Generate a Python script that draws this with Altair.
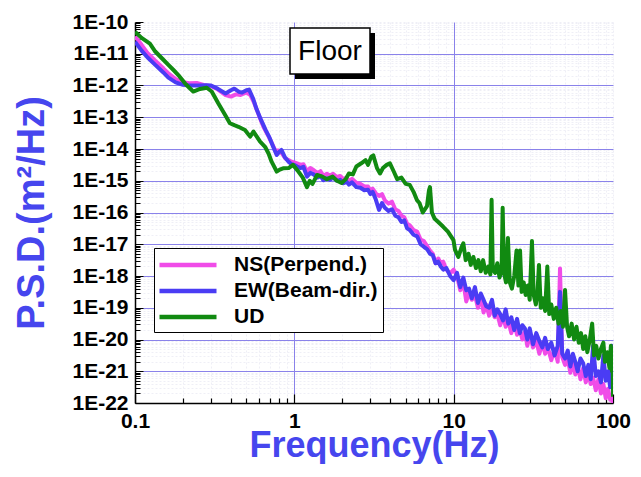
import altair as alt
import pandas as pd

# ---------------- data ----------------
# frequency (Hz) and log10 of PSD (m^2/Hz)
ns_freq = [0.1, 0.11, 0.12, 0.134, 0.15, 0.162, 0.18, 0.2, 0.22, 0.244, 0.27, 0.3, 0.33, 0.37, 0.4,
           0.43, 0.46, 0.5, 0.53, 0.56, 0.6, 0.64, 0.68, 0.72, 0.76, 0.8, 0.84, 0.88, 0.92, 0.96, 1.0,
           1.04, 1.09, 1.14, 1.2, 1.26, 1.32, 1.4, 1.46, 1.52, 1.6, 1.67, 1.75, 1.85, 1.94, 2.03,
           2.12, 2.2, 2.3, 2.45, 2.6, 2.75, 2.9, 3.0, 3.1, 3.25, 3.4, 3.55, 3.7, 3.9, 4.1,
           4.3, 4.5, 4.7, 4.9, 5.1, 5.3, 5.6, 5.9, 6.2, 6.5, 6.8, 7.1, 7.4, 7.7, 8.0,
           8.3, 8.6, 9.0, 9.5, 10.0,
           10.5, 11, 11.5, 12, 12.5, 13, 13.6, 14.2, 14.8, 15.4, 16, 16.7, 17.4, 18.1, 18.8,
           19.6, 20.4, 21.2, 22, 23, 24, 25, 26, 27, 28, 29, 30, 31.5, 33, 34.5,
           36, 37.5, 39, 41, 43, 45, 46.5, 48, 50, 52, 54, 56, 58, 60, 62.5,
           65, 67.5, 70, 72.5, 75, 78, 81, 84, 87, 90, 93, 96, 98, 100]
ns_log_psd = [-10.46, -10.72, -10.98, -11.22, -11.45, -11.62, -11.8, -11.9, -11.93, -11.92, -11.98, -12.02, -12.12, -12.3, -12.35,
              -12.28, -12.3, -12.22, -12.3, -12.55, -12.95, -13.3, -13.55, -13.8, -14.05, -14.05, -14.15, -14.3, -14.35, -14.4, -14.42,
              -14.45, -14.5, -14.48, -14.7, -14.6, -14.66, -14.76, -14.7, -14.84, -14.78, -14.84, -14.78, -14.88, -14.85, -14.95,
              -14.9, -15.0, -14.94, -15.06, -15.1, -15.18, -15.18, -15.3, -15.25, -15.4, -15.48, -15.42, -15.62, -15.72, -15.66,
              -15.9, -15.95, -16.1, -16.15, -16.35, -16.4, -16.55, -16.6, -16.85, -16.9, -17.05, -17.2, -17.3, -17.6, -17.45,
              -17.6, -17.55, -17.8, -17.92, -17.8,
              -18.0, -18.45, -18.2, -18.8, -18.5, -18.75, -18.6, -19.0, -18.65, -19.15, -18.9, -19.25, -19.0, -19.3, -19.2,
              -19.55, -19.25, -19.6, -19.4, -19.8, -19.5, -19.85, -19.7, -20.0, -19.75, -20.2, -19.85, -20.25, -20.05, -20.45,
              -20.1, -20.45, -20.25, -20.65, -20.3, -20.7, -17.76, -20.55, -20.8, -20.6, -21.05, -20.7, -21.1, -20.85, -21.25,
              -20.9, -21.35, -21.05, -21.4, -21.2, -21.6, -21.25, -21.7, -21.4, -21.85, -21.55, -21.9, -21.75, -22.0]

ew_freq = [0.1, 0.11, 0.12, 0.134, 0.15, 0.162, 0.18, 0.2, 0.22, 0.25, 0.28, 0.3, 0.33, 0.37, 0.4,
           0.42, 0.45, 0.47, 0.5, 0.52, 0.55, 0.58, 0.62, 0.66, 0.7, 0.74, 0.775, 0.8, 0.83, 0.87,
           0.92, 0.96, 1.0,
           1.04, 1.09, 1.14, 1.2, 1.26, 1.32, 1.4, 1.46, 1.52, 1.6, 1.67, 1.75, 1.85, 1.94, 2.03,
           2.12, 2.2, 2.3, 2.45, 2.6, 2.75, 2.9, 3.0, 3.1, 3.25, 3.4, 3.55, 3.7, 3.9, 4.1,
           4.3, 4.5, 4.7, 4.9, 5.1, 5.3, 5.6, 5.9, 6.2, 6.5, 6.8, 7.1, 7.4, 7.7, 8.0,
           8.3, 8.6, 9.0, 9.5, 10.0,
           10.5, 11, 11.5, 12, 12.5, 13, 13.6, 14.2, 14.8, 15.4, 16, 16.7, 17.4, 18.1, 18.8,
           19.6, 20.4, 21.2, 22, 23, 24, 25, 26, 27, 28, 29, 30, 31.5, 33, 34.5,
           36, 37.5, 39, 41, 43, 45, 46.5, 48, 50, 52, 54, 56, 58, 60, 62.5,
           65, 67.5, 70, 72.5, 75, 78, 81, 84, 87, 90, 93, 96, 98, 100]
ew_log_psd = [-10.62, -10.9, -11.12, -11.35, -11.58, -11.75, -11.9, -11.98, -12.0, -12.0, -11.99, -12.0, -12.1, -12.25, -12.15,
              -12.1, -12.2, -12.22, -12.15, -12.13, -12.4, -12.75, -13.1, -13.4, -13.65, -13.95, -14.19, -14.1, -14.03, -14.25,
              -14.4, -14.48, -14.5,
              -14.55, -14.6, -14.56, -14.87, -14.75, -14.8, -14.9, -14.85, -14.98, -14.92, -14.97, -14.9, -15.0, -14.97, -15.08,
              -15.02, -15.12, -15.05, -15.2, -15.22, -15.3, -15.28, -15.42, -15.35, -15.6, -15.92, -15.7, -15.85, -15.95, -15.9,
              -16.1, -16.15, -16.3, -16.25, -16.5, -16.55, -16.7, -16.75, -17.0, -17.08, -17.15, -17.3, -17.35, -17.6, -17.55,
              -17.7, -17.8, -17.75, -18.0, -18.13,
              -17.9, -18.35, -18.05, -18.45, -18.4, -18.7, -18.35, -18.85, -18.55, -18.75, -18.95, -19.0, -18.75, -19.25, -19.05,
              -19.2, -19.4, -19.05, -19.5, -19.3, -19.7, -19.35, -19.8, -19.55, -19.65, -20.0, -19.65, -20.15, -19.8, -20.05,
              -20.25, -19.95, -20.3, -20.1, -20.5, -20.2, -18.5, -20.45, -20.6, -20.35, -20.85, -20.45, -20.7, -21.0, -20.6,
              -20.75, -21.15, -20.8, -21.25, -20.2, -21.15, -21.0, -21.35, -20.5, -21.3, -21.0, -21.5, -20.2, -21.6]

ud_freq = [0.1, 0.11, 0.124, 0.134, 0.148, 0.162, 0.175, 0.187, 0.206, 0.22, 0.232, 0.256, 0.282, 0.303, 0.333,
           0.368, 0.394, 0.42, 0.446, 0.49, 0.528, 0.554, 0.58, 0.61, 0.655, 0.69, 0.72, 0.775, 0.81, 0.85,
           0.92, 0.98, 1.06, 1.13, 1.2, 1.25, 1.3, 1.39, 1.5, 1.6, 1.74, 1.85, 1.98, 2.1, 2.2,
           2.33, 2.45, 2.63, 2.8, 2.9, 3.04, 3.13, 3.3, 3.45, 3.6, 3.8, 3.98, 4.2, 4.42, 4.7,
           5.0, 5.3, 5.6, 5.88, 6.1, 6.4, 6.8, 7.0, 7.1, 7.3, 7.6, 8.0, 8.6, 9.2, 9.97,
           10.2, 10.7, 11.2, 11.5, 11.9, 12.4, 12.8, 13.3, 13.8, 14.3, 14.8, 15.3, 15.9, 16.5, 17.0,
           17.3, 17.6, 18.2, 18.8, 19.4, 20.0, 20.3, 20.7, 21.3, 21.9, 22.5, 23.2, 24.0, 24.8, 25.5,
           26.1, 26.7, 27.5, 28.3, 29.2, 30.0, 31.0, 31.8, 32.8, 33.6, 34.3, 35.2, 36.2, 37.5, 38.7,
           39.8, 41.0, 42.5, 44.0, 45.5, 47.0, 48.5, 50.0, 51.5, 53.0, 55.0, 57.0, 59.0, 61.0, 63.0,
           65.0, 67.0, 69.0, 71.5, 74.0, 76.0, 78.5, 81.0, 84.0, 87.0, 89.0, 92.0, 95.0, 97.0, 98.5,
           99.5, 100]
ud_log_psd = [-10.31, -10.5, -10.68, -10.93, -11.15, -11.35, -11.52, -11.67, -11.93, -12.08, -12.19, -12.11, -12.07, -12.19, -12.56,
              -12.93, -13.19, -13.25, -13.3, -13.4, -13.61, -13.45, -13.6, -13.77, -13.93, -14.15, -14.4, -14.71, -14.65, -14.61,
              -14.6, -14.5, -14.71, -14.9, -15.2, -15.0, -15.1, -14.82, -14.87, -14.95, -14.87, -15.0, -15.07, -14.95, -14.77,
              -14.8, -14.55, -14.45, -14.35, -14.5, -14.24, -14.2, -14.6, -14.77, -14.6, -14.5, -14.45, -14.7, -14.95, -14.9,
              -15.1, -15.13, -15.35, -15.61, -15.7, -16.0, -15.8, -15.3, -15.2, -16.0, -16.2, -16.3, -16.45, -16.6, -16.87,
              -17.18, -17.4, -17.1, -16.97, -17.5, -17.3, -17.65, -17.4, -17.75, -17.5, -17.85, -17.5, -17.9, -17.7, -17.95,
              -15.6, -17.8, -17.9, -17.6, -18.05, -17.8, -15.85, -17.9, -18.2, -16.8, -18.2, -18.4, -18.0, -17.2, -18.3,
              -17.2, -18.5, -18.2, -18.6, -18.3, -18.75, -16.9, -18.6, -18.9, -18.5, -17.65, -19.0, -18.7, -19.1, -17.7,
              -19.2, -18.9, -19.35, -19.0, -19.5, -19.1, -19.6, -18.44, -19.6, -19.9, -19.5, -20.0, -19.6, -20.1, -19.8,
              -20.3, -19.9, -20.4, -20.0, -19.5, -20.5, -20.2, -20.6, -20.3, -20.1, -20.7, -20.4, -20.9, -20.2, -21.0,
              -20.5, -21.8]

series_names = ["NS(Perpend.)", "EW(Beam-dir.)", "UD"]
series_colors = ["#f04ce8", "#4a3cf4", "#118a11"]
title_text = ["Floor"]
x_title = "Frequency(Hz)"
y_title = "P.S.D.(m\u00b2/Hz)"

# ---------------- chart ----------------
W, H = 478, 381
BLUE = "#4646ee"
SANS = "Liberation Sans, Arial"

def frame(freq, logv, name):
    return pd.DataFrame({"f": freq, "psd": [10.0 ** v for v in logv], "series": name})

frames = [frame(ns_freq, ns_log_psd, series_names[0]),
          frame(ew_freq, ew_log_psd, series_names[1]),
          frame(ud_freq, ud_log_psd, series_names[2])]

x_ticks = [m * 10.0 ** e for e in (-1, 0, 1) for m in range(1, 10)] + [100.0]
y_ticks = [m * 10.0 ** e for e in range(-22, -10) for m in range(1, 10)] + [1e-10]

MAJ = "abs(log(datum.value)/LN10 - round(log(datum.value)/LN10)) < 0.001"
x_grid_test = MAJ + " && datum.value > 0.5 && datum.value < 50"
y_grid_test = MAJ + " && datum.value > 3e-22 && datum.value < 3e-11"
GRID_MAJ = "#8a82ea"
GRID_MIN = "#efeff6"

x_scale = alt.Scale(type="log", domain=[0.1, 100], nice=False)
y_scale = alt.Scale(type="log", domain=[1e-22, 1e-10], nice=False)

x_axis = alt.Axis(
    values=x_ticks, labelExpr=f"{MAJ} ? format(datum.value, '~g') : ''",
    ticks=False, labelFlush=False, labelPadding=7, labelOverlap=False,
    labelFont=SANS, labelFontWeight="bold", labelFontSize=21, labelColor="black",
    grid=True,
    gridColor={"condition": {"test": x_grid_test, "value": GRID_MAJ}, "value": GRID_MIN},
    gridDash={"condition": {"test": x_grid_test, "value": []}, "value": [2, 2]},
    gridWidth=1,
    domainColor="black", domainWidth=1.5,
    title=x_title, titleFont=SANS, titleFontWeight="bold", titleFontSize=36,
    titleColor=BLUE, titlePadding=-3,
)
y_axis = alt.Axis(
    values=y_ticks, labelExpr=f"{MAJ} ? '1E' + round(log(datum.value)/LN10) : ''",
    ticks=False, labelFlush=False, labelPadding=7, labelOverlap=False,
    labelFont=SANS, labelFontWeight="bold", labelFontSize=21, labelColor="black",
    grid=True,
    gridColor={"condition": {"test": y_grid_test, "value": GRID_MAJ}, "value": GRID_MIN},
    gridDash={"condition": {"test": y_grid_test, "value": []}, "value": [2, 2]},
    gridWidth=1,
    domainColor="black", domainWidth=1.5,
    title=y_title, titleFont=SANS, titleFontWeight="bold", titleFontSize=38,
    titleColor=BLUE, titlePadding=20,
)

color = alt.Color(
    "series:N",
    scale=alt.Scale(domain=series_names, range=series_colors),
    legend=alt.Legend(
        title=None, orient="none", legendX=19, legendY=226, direction="vertical",
        symbolType="M-3,0H3", symbolSize=361, symbolStrokeWidth=4.5,
        symbolOffset=17, labelOffset=34, rowPadding=4, padding=5,
        labelFont=SANS, labelFontWeight="bold", labelFontSize=21, labelColor="black",
        labelLimit=400, strokeColor="black", fillColor="white", cornerRadius=0,
    ),
)

line_layers = []
for i, df in enumerate(frames):
    enc = dict(
        x=alt.X("f:Q", scale=x_scale, axis=x_axis if i == 0 else None),
        y=alt.Y("psd:Q", scale=y_scale, axis=y_axis if i == 0 else None),
        color=color,
    )
    line_layers.append(
        alt.Chart(df).mark_line(strokeWidth=4, strokeJoin="round", clip=True).encode(**enc)
    )

# inward-pointing ticks: top/right axes moved onto the bottom/left edges
tick_layer = alt.Chart(frames[2]).mark_point(opacity=0).encode(
    x=alt.X("f:Q", scale=x_scale, axis=alt.Axis(
        orient="top", offset=-H, values=x_ticks, labels=False, domain=False, grid=False,
        tickColor="black", tickWidth=1.2,
        tickSize={"condition": {"test": MAJ, "value": 9}, "value": 5}, title=None)),
    y=alt.Y("psd:Q", scale=y_scale, axis=alt.Axis(
        orient="right", offset=-W, values=y_ticks, labels=False, domain=False, grid=False,
        tickColor="black", tickWidth=1.0,
        tickSize={"condition": {"test": MAJ, "value": 8}, "value": 5}, title=None)),
)

one = pd.DataFrame({"t": title_text})
shadow = alt.Chart(one).mark_rect(color="black").encode(
    x=alt.value(160), x2=alt.value(240), y=alt.value(11), y2=alt.value(57))
box = alt.Chart(one).mark_rect(fill="white", stroke="black", strokeWidth=1.5).encode(
    x=alt.value(155), x2=alt.value(235), y=alt.value(6), y2=alt.value(52))
label = alt.Chart(one).mark_text(font=SANS, fontSize=28, color="black",
                                 align="center", baseline="middle").encode(
    x=alt.value(195), y=alt.value(30), text="t:N")

chart = alt.layer(*line_layers, tick_layer, shadow, box, label).resolve_axis(
    x="independent", y="independent"
).properties(
    width=W, height=H,
    padding={"left": 127, "top": 14, "right": 20, "bottom": 61},
    autosize=alt.AutoSizeParams(type="none"),
    background="white",
).configure_view(stroke=None)

chart.save("out.html", embed_options={"renderer": "svg", "actions": False})
